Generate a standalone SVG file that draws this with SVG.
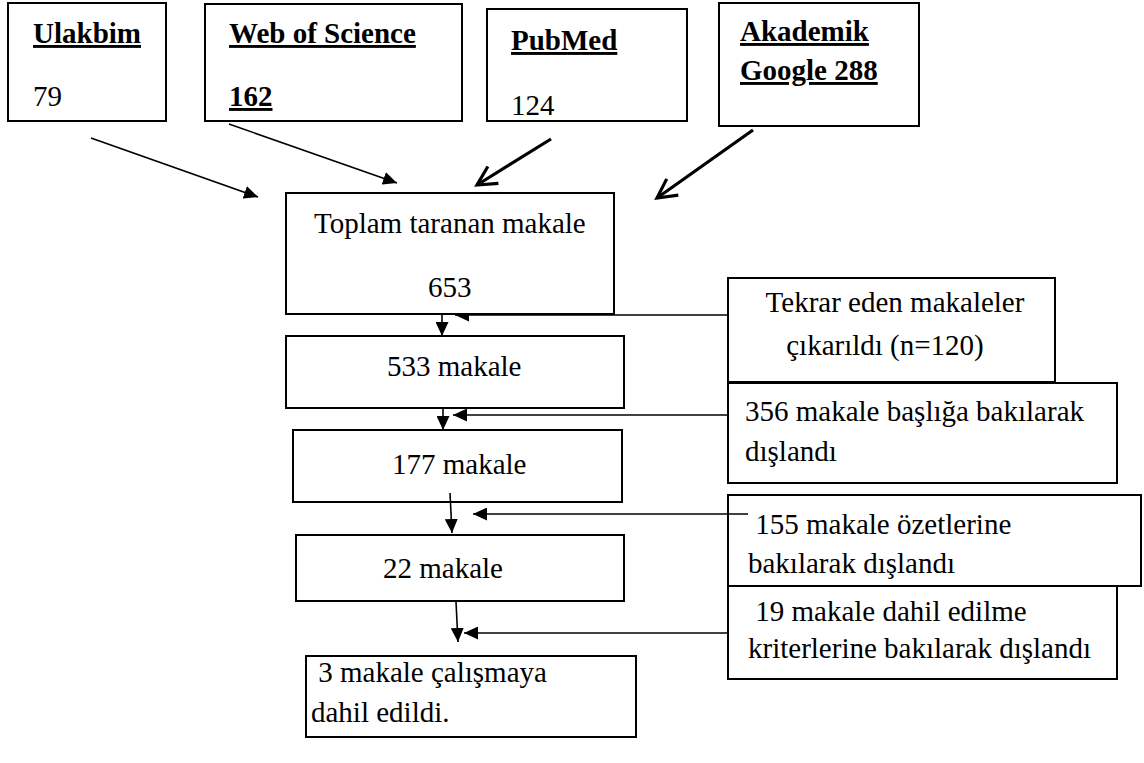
<svg xmlns="http://www.w3.org/2000/svg" width="1144" height="763" viewBox="0 0 1144 763">
<style>
.box{fill:none;stroke:#000;stroke-width:2}
.t{font-family:"Liberation Serif","Times New Roman",serif;font-size:29px;fill:#000;white-space:pre}
.b{font-weight:bold;text-decoration:underline}
.thin{stroke:#000;stroke-width:1.6;fill:none}
.thick{stroke:#000;stroke-width:3.2;fill:none}
</style>
<defs>
<marker id="tri" markerUnits="userSpaceOnUse" markerWidth="15" markerHeight="13" refX="14" refY="6.5" orient="auto">
<path d="M0,0 L14,6.5 L0,13 z" fill="#000"/>
</marker>
<marker id="vee" markerUnits="userSpaceOnUse" markerWidth="26" markerHeight="26" refX="21" refY="12" orient="auto">
<path d="M2,2 L21,12 L2,22" fill="none" stroke="#000" stroke-width="3.2" stroke-linejoin="miter"/>
</marker>
</defs>
<g id="connectors">
<line class="thin" x1="91" y1="138" x2="258" y2="197" marker-end="url(#tri)"/>
<line class="thin" x1="229" y1="124" x2="397" y2="183" marker-end="url(#tri)"/>
<line class="thick" x1="551" y1="139" x2="477" y2="185" marker-end="url(#vee)"/>
<line class="thick" x1="753" y1="130" x2="657" y2="198" marker-end="url(#vee)"/>
<line class="thin" x1="728" y1="315" x2="455" y2="315" marker-end="url(#tri)"/>
<line class="thin" x1="442" y1="314" x2="442" y2="336" marker-end="url(#tri)"/>
<line class="thin" x1="443" y1="408" x2="443" y2="430" marker-end="url(#tri)"/>
<line class="thin" x1="728" y1="415" x2="453" y2="415" marker-end="url(#tri)"/>
<line class="thin" x1="450" y1="493" x2="452" y2="533" marker-end="url(#tri)"/>
<line class="thin" x1="748" y1="514" x2="473" y2="514" marker-end="url(#tri)"/>
<line class="thin" x1="456" y1="602" x2="458" y2="642" marker-end="url(#tri)"/>
<line class="thin" x1="728" y1="633" x2="464" y2="633" marker-end="url(#tri)"/>
</g>
<g id="ulakbim">
<rect class="box" x="8" y="3" width="158" height="118"/>
<text class="t b" x="33" y="43">Ulakbim</text>
<text class="t" x="33" y="106">79</text>
</g>
<g id="wos">
<rect class="box" x="205" y="4" width="257" height="117"/>
<text class="t b" x="229" y="43">Web of Science</text>
<text class="t b" x="229" y="106">162</text>
</g>
<g id="pubmed">
<rect class="box" x="487" y="9" width="200" height="112"/>
<text class="t b" x="511" y="50">PubMed</text>
<text class="t" x="511" y="115">124</text>
</g>
<g id="akademik">
<rect class="box" x="719" y="3" width="200" height="123"/>
<text class="t b" x="740" y="41">Akademik</text>
<text class="t b" x="740" y="80">Google 288</text>
</g>
<g id="toplam">
<rect class="box" x="286" y="193" width="328" height="121" style="fill:#fff"/>
<text class="t" x="314" y="233">Toplam taranan makale</text>
<text class="t" x="428" y="297">653</text>
</g>
<g id="tekrar">
<rect class="box" x="728" y="278" width="327" height="104"/>
<text class="t" x="895" y="312" text-anchor="middle">Tekrar eden makaleler</text>
<text class="t" x="885" y="355" text-anchor="middle">çıkarıldı (n=120)</text>
</g>
<g id="m533">
<rect class="box" x="286" y="336" width="338" height="72"/>
<text class="t" x="387" y="376">533 makale</text>
</g>
<g id="baslik">
<rect class="box" x="728" y="383" width="389" height="100"/>
<text class="t" x="745" y="421">356 makale başlığa bakılarak</text>
<text class="t" x="745" y="461">dışlandı</text>
</g>
<g id="m177">
<rect class="box" x="293" y="430" width="329" height="72"/>
<text class="t" x="392" y="474">177 makale</text>
</g>
<g id="ozet">
<rect class="box" x="728" y="495" width="413" height="91"/>
<text class="t" x="748" y="534"> 155 makale özetlerine</text>
<text class="t" x="748" y="573">bakılarak dışlandı</text>
</g>
<g id="m22">
<rect class="box" x="296" y="535" width="328" height="66"/>
<text class="t" x="383" y="578">22 makale</text>
</g>
<g id="kriter">
<rect class="box" x="728" y="586" width="389" height="93"/>
<text class="t" x="748" y="621"> 19 makale dahil edilme</text>
<text class="t" x="748" y="658">kriterlerine bakılarak dışlandı</text>
</g>
<g id="final">
<rect class="box" x="306" y="656" width="330" height="81"/>
<text class="t" x="311" y="682"> 3 makale çalışmaya</text>
<text class="t" x="311" y="722">dahil edildi.</text>
</g>
</svg>
